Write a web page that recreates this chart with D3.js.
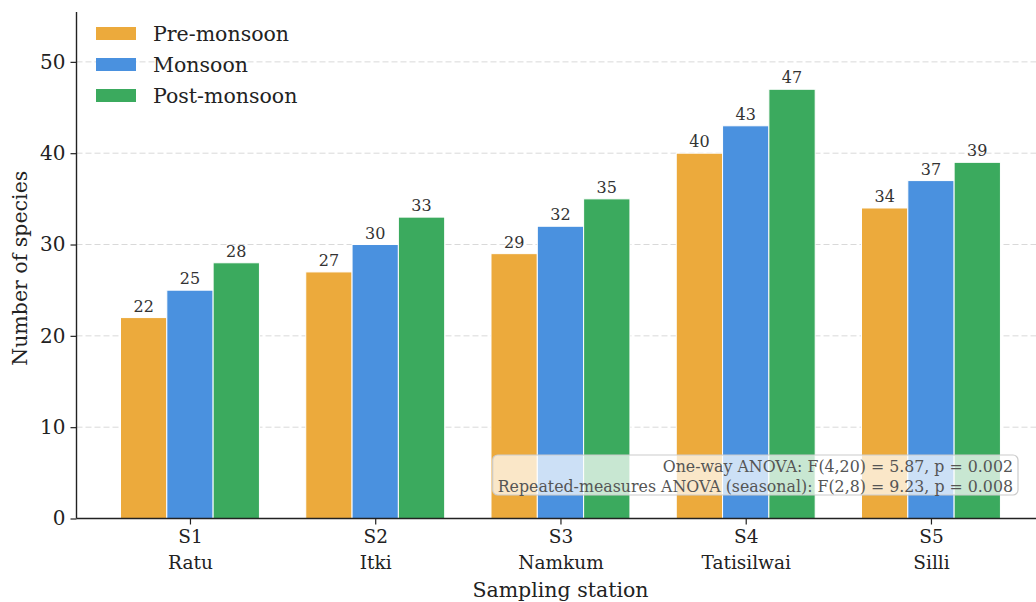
<!DOCTYPE html>
<html>
<head>
<meta charset="utf-8">
<script src="https://cdn.jsdelivr.net/npm/d3@7"></script>
<style>
  html, body { margin: 0; padding: 0; background: #fff; }
  svg { display: block; font-family: "DejaVu Serif", serif; }
</style>
</head>
<body>
<svg id="chart" width="1036" height="602"></svg>
<script>
// Species richness per sampling station and season
const stationCodes = ["S1", "S2", "S3", "S4", "S5"];
const stationNames = ["Ratu", "Itki", "Namkum", "Tatisilwai", "Silli"];
const seasons = ["Pre-monsoon", "Monsoon", "Post-monsoon"];
const preMonsoon = [22, 27, 29, 40, 34];
const monsoon = [25, 30, 32, 43, 37];
const postMonsoon = [28, 33, 35, 47, 39];
const yTicks = [0, 10, 20, 30, 40, 50];
const statLines = [
  "One-way ANOVA: F(4,20) = 5.87, p = 0.002",
  "Repeated-measures ANOVA (seasonal): F(2,8) = 9.23, p = 0.008"
];

const seriesValues = [preMonsoon, monsoon, postMonsoon];
const colors = ["#ECAA3C", "#4A91DF", "#3BAA5E"];

const svg = d3.select("#chart");
const plot = { left: 76.5, top: 12, bottom: 518.5 };

// Numeric x positions 0..4, bar width 0.25, matplotlib-like margins
const barW = 0.25;
const x = d3.scaleLinear().domain([-0.6125, 4.6125]).range([plot.left, plot.left + 5.225 * 185.25]);
const yMax = d3.max(postMonsoon) * 1.18;
const y = d3.scaleLinear().domain([0, yMax]).range([plot.bottom, plot.top]);

// Grid lines
svg.append("g")
  .selectAll("line")
  .data(yTicks.filter(t => t > 0))
  .join("line")
  .attr("x1", plot.left).attr("x2", 1036)
  .attr("y1", d => y(d)).attr("y2", d => y(d))
  .attr("stroke", "#d9d9d9").attr("stroke-width", 1)
  .attr("stroke-dasharray", "6,3");

// Bars
seriesValues.forEach((vals, si) => {
  const off = (si - 1) * barW;
  const g = svg.append("g");
  g.selectAll("rect")
    .data(vals)
    .join("rect")
    .attr("x", (d, i) => x(i + off - barW / 2))
    .attr("width", x(barW) - x(0))
    .attr("y", d => y(d))
    .attr("height", d => y(0) - y(d))
    .attr("fill", colors[si])
    .attr("stroke", "#fff").attr("stroke-width", 1);
  g.selectAll("text")
    .data(vals)
    .join("text")
    .attr("x", (d, i) => x(i + off))
    .attr("y", d => y(d) - 6)
    .attr("text-anchor", "middle")
    .attr("font-size", 16)
    .attr("fill", "#333")
    .text(d => d);
});

// Y axis
const yAxis = d3.axisLeft(y).tickValues(yTicks).tickSize(6).tickPadding(5).tickFormat(d3.format("d"));
const gy = svg.append("g").attr("transform", `translate(${plot.left},0)`).call(yAxis);
gy.select(".domain").attr("stroke", "#222").attr("stroke-width", 1.4).attr("d", `M0,${plot.top}V${plot.bottom}`);
gy.selectAll(".tick line").attr("stroke", "#222").attr("stroke-width", 1.2);
gy.selectAll(".tick text").attr("font-family", "DejaVu Serif").attr("font-size", 20).attr("fill", "#222");

// X axis
const xAxis = d3.axisBottom(x).tickValues(d3.range(stationCodes.length)).tickSize(6).tickFormat("");
const gx = svg.append("g").attr("transform", `translate(0,${plot.bottom})`).call(xAxis);
gx.select(".domain").attr("stroke", "#222").attr("stroke-width", 1.4).attr("d", `M${plot.left},0H1040`);
gx.selectAll(".tick line").attr("stroke", "#222").attr("stroke-width", 1.2);
gx.selectAll(".tick").each(function (d) {
  const t = d3.select(this).append("text")
    .attr("text-anchor", "middle").attr("font-family", "DejaVu Serif")
    .attr("font-size", 18.5).attr("fill", "#222");
  t.append("tspan").attr("x", 0).attr("y", 24).text(stationCodes[d]);
  t.append("tspan").attr("x", 0).attr("y", 50).text(stationNames[d]);
});

// Axis titles
svg.append("text")
  .attr("x", x(2)).attr("y", 597)
  .attr("text-anchor", "middle").attr("font-size", 20.5).attr("fill", "#222")
  .text("Sampling station");
svg.append("text")
  .attr("transform", `translate(27,${y(yMax / 2) + 3}) rotate(-90)`)
  .attr("text-anchor", "middle").attr("font-size", 20.5).attr("fill", "#222")
  .text("Number of species");

// Legend
const legend = svg.append("g").attr("transform", "translate(96,27)");
seasons.forEach((s, i) => {
  const row = legend.append("g").attr("transform", `translate(0,${i * 31})`);
  row.append("rect").attr("width", 40).attr("height", 13).attr("fill", colors[i]);
  row.append("text").attr("x", 57).attr("y", 14).attr("font-size", 20.5).attr("fill", "#222").text(s);
});

// Statistics annotation box
const box = svg.append("g");
const boxRect = box.append("rect")
  .attr("rx", 5).attr("ry", 5)
  .attr("fill", "#fff").attr("fill-opacity", 0.72)
  .attr("stroke", "#ccc").attr("stroke-width", 1.2);
const statText = box.append("text")
  .attr("text-anchor", "end").attr("font-size", 15.8).attr("fill", "#555");
statLines.forEach((l, i) => {
  statText.append("tspan").attr("x", 1013).attr("y", 472 + i * 20).text(l);
});
const bb = statText.node().getBBox();
boxRect.attr("x", bb.x - 5).attr("y", 455).attr("width", bb.width + 10).attr("height", 40);
</script>
</body>
</html>
